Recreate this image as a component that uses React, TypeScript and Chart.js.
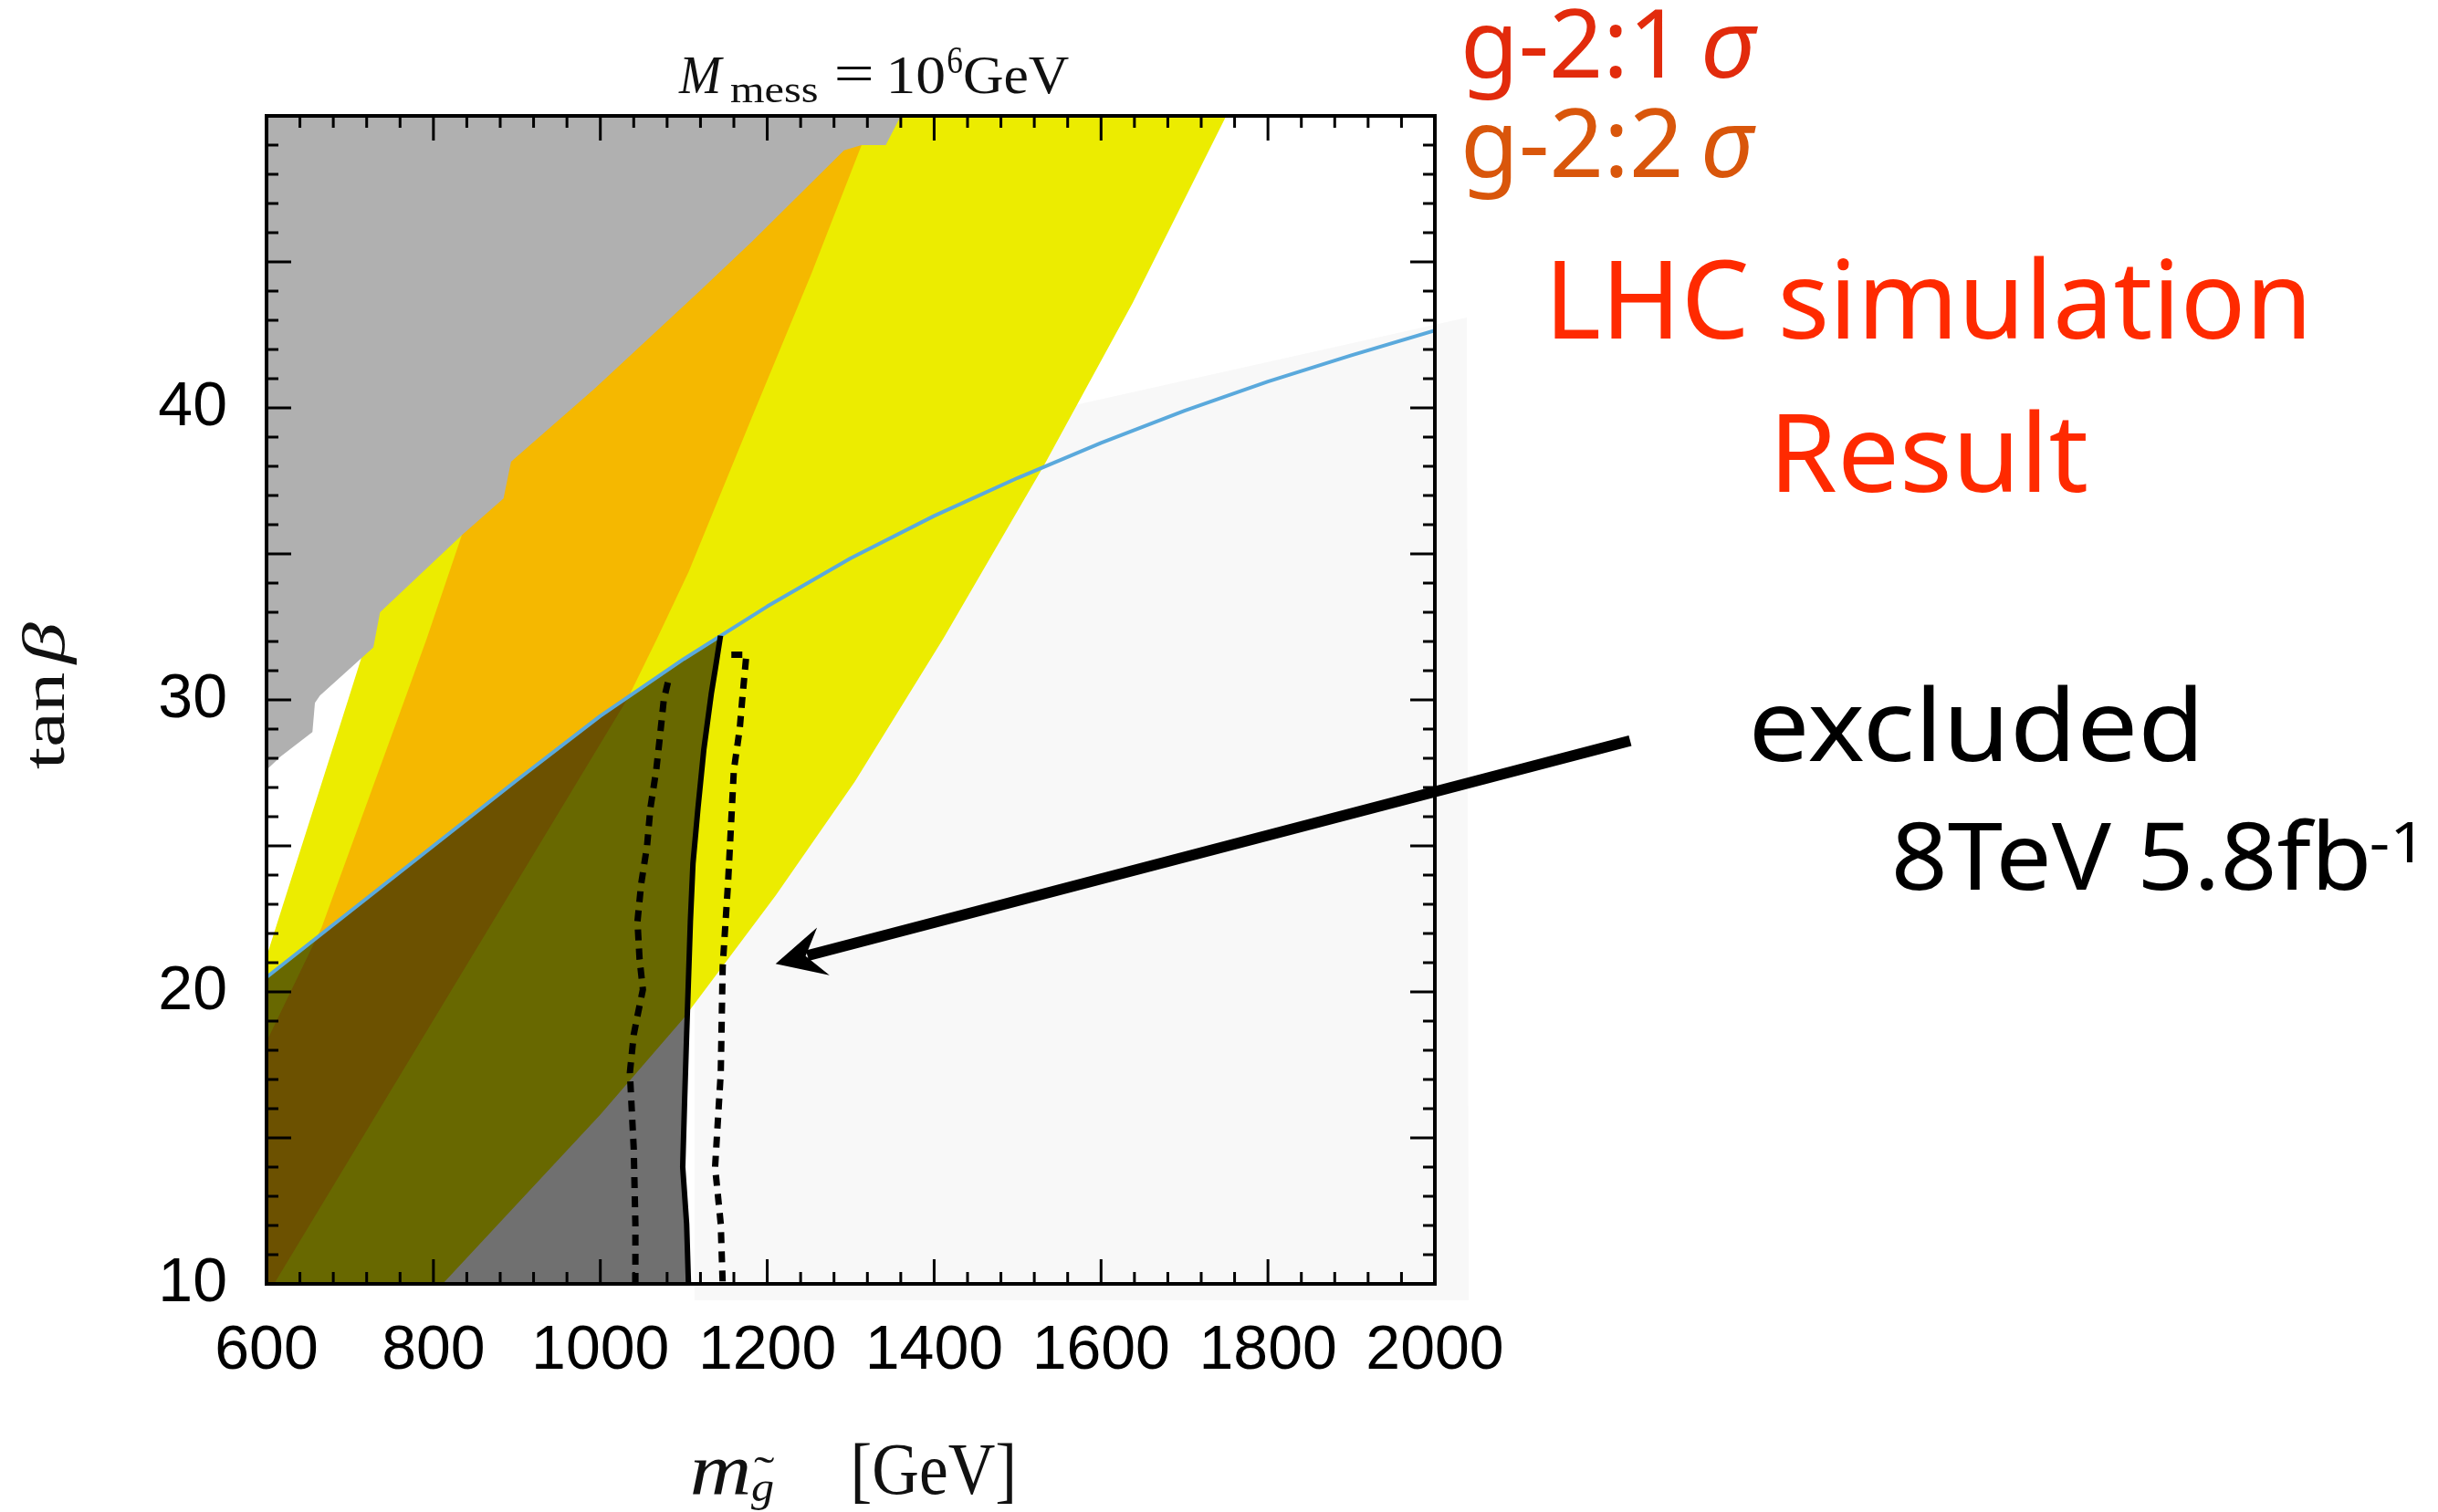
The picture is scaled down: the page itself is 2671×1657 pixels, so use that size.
import React, { useEffect, useRef } from 'react';
import { Chart, registerables } from 'chart.js';

Chart.register(...registerables);

type P = [number, number];

// ---- axes ----
const X_MIN = 600;
const X_MAX = 2000;
const Y_MIN = 10;
const Y_MAX = 50;
const X_LABEL_STEP = 200;
const Y_LABEL_STEP = 10;
const X_MINOR_STEP = 40;
const X_MAJOR_STEP = 200;
const Y_MINOR_STEP = 1;
const Y_MAJOR_STEP = 5;
const Y_HIDDEN_LABELS = [50];

// ---- regions (gluino mass [GeV], tan beta) ----
const g2TwoSigmaBand: P[] = [
  [600, 10], [811, 10], [1000, 15.8], [1100, 19.1], [1210, 23.3], [1305, 27.2],
  [1411, 32.1], [1531, 38.0], [1638, 43.6], [1750, 50], [1760, 50.6],
  [925, 50.6], [700, 30.2], [600, 21.2],
];

const g2OneSigmaBand: P[] = [
  [600, 10], [609, 10], [1033, 30.06], [1068, 32.1], [1106, 34.4], [1182, 39.7],
  [1253, 44.6], [1313, 49.0], [1335, 50.6], [1030, 50.6], [960, 45], [900, 40.5],
  [834, 35.64], [792, 32.1], [768, 30.2], [666, 22.2], [600, 18.3],
];

const excludedGrayRegion: P[] = [
  [600, 27.6], [617, 28.06], [655, 28.9], [658, 29.9], [664, 30.15], [728, 31.8],
  [736, 33.0], [834, 35.64], [884, 36.9], [893, 38.16], [993, 40.66], [1119, 44.0],
  [1182, 45.7], [1292, 48.82], [1313, 49.0], [1342, 49.0], [1360, 50], [1362, 50.6],
  [600, 50.6],
];

const blueCurve: P[] = [
  [600, 20.5], [700, 22.75], [800, 25.0], [900, 27.25], [1000, 29.45], [1100, 31.4],
  [1200, 33.2], [1300, 34.85], [1400, 36.3], [1500, 37.6], [1600, 38.8], [1700, 39.9],
  [1800, 40.9], [1900, 41.8], [2000, 42.65],
];

const lhcObserved: P[] = [
  [1105.6, 10], [1103.4, 12.05], [1098.7, 14.0], [1101, 16.3], [1103.4, 18.53],
  [1107.9, 22.41], [1111, 24.4], [1117, 26.3], [1124, 28.3], [1132.9, 30.2],
  [1138, 31.1], [1144, 32.2],
];

const lhcExpectedLow: P[] = [
  [1042, 10], [1042, 12.05], [1040, 14.64], [1037.7, 15.94], [1035.4, 17.23],
  [1040, 18.53], [1044.5, 19.18], [1051, 20.08], [1047, 21.12], [1044.5, 22.41],
  [1049, 23.71], [1056, 25.0], [1060, 26.3], [1067, 27.6], [1072, 28.9],
  [1076, 30.0], [1081, 30.6],
];

const lhcExpectedHigh: P[] = [
  [1157, 31.55], [1175, 31.55], [1170, 30.0], [1167, 29.0], [1160, 27.6],
  [1153, 23.71], [1146.6, 20.87], [1144.3, 17.23], [1137.5, 14.0], [1144.3, 12.05],
  [1146.6, 10],
];

// arrow (tail -> tip) in data units
const arrowTail: P = [2234, 28.6];
const arrowTip: P = [1210, 20.96];

// texts
const titleParts = ['M', 'mess', '=', '10', '6', 'GeV'];
const xTitleParts = ['m', 'g', '˜', '[GeV]'];
const yTitleParts = ['tan', 'β'];
const noteG2One = ['g-2:1', 'σ'];
const noteG2Two = ['g-2:2', 'σ'];
const noteLHC = ['LHC simulation', 'Result'];
const noteExcluded = ['excluded', '8TeV 5.8fb', '-1'];

const toXY = (pts: P[]) => pts.map(([x, y]) => ({ x, y }));

// dark overlay: below blue curve, left of observed limit
const darkOverlay: P[] = [
  [600, 10],
  ...lhcObserved,
  ...blueCurve.filter(([x]) => x < lhcObserved[lhcObserved.length - 1][0]).reverse(),
];

const SERIF = "'Liberation Serif', 'Times New Roman', serif";
const SANS = "'Noto Sans', 'Liberation Sans', sans-serif";

function fitText(
  ctx: CanvasRenderingContext2D,
  text: string,
  left: number,
  baseline: number,
  width: number,
  font: string,
  color: string
) {
  ctx.save();
  ctx.font = font;
  ctx.fillStyle = color;
  ctx.textAlign = 'left';
  ctx.textBaseline = 'alphabetic';
  const m = ctx.measureText(text);
  const vis = m.actualBoundingBoxLeft + m.actualBoundingBoxRight;
  const s = width > 0 && vis > 0 ? width / vis : 1;
  ctx.translate(left, baseline);
  ctx.scale(s, 1);
  ctx.fillText(text, m.actualBoundingBoxLeft, 0);
  ctx.restore();
}

const bgPlugin = {
  id: 'bgPatch',
  beforeDraw(chart: any) {
    const { ctx } = chart;
    ctx.save();
    ctx.fillStyle = '#ffffff';
    ctx.fillRect(0, 0, chart.width, chart.height);
    ctx.fillStyle = '#f8f8f8';
    ctx.beginPath();
    ctx.moveTo(761, 537);
    ctx.lineTo(1607, 348);
    ctx.lineTo(1609, 1425);
    ctx.lineTo(761, 1425);
    ctx.closePath();
    ctx.fill();
    ctx.restore();
  },
};

const framePlugin = {
  id: 'frameTicks',
  afterDatasetsDraw(chart: any) {
    const { ctx, chartArea } = chart;
    const { left, right, top, bottom } = chartArea;
    const xs = chart.scales.x;
    const ys = chart.scales.y;
    ctx.save();
    ctx.strokeStyle = '#000';
    ctx.lineWidth = 3;
    ctx.beginPath();
    for (let v = X_MIN + X_MINOR_STEP; v < X_MAX; v += X_MINOR_STEP) {
      const px = xs.getPixelForValue(v);
      const len = (v - X_MIN) % X_MAJOR_STEP === 0 ? 27 : 13;
      ctx.moveTo(px, bottom);
      ctx.lineTo(px, bottom - len);
      ctx.moveTo(px, top);
      ctx.lineTo(px, top + len);
    }
    for (let v = Y_MIN + Y_MINOR_STEP; v < Y_MAX; v += Y_MINOR_STEP) {
      const py = ys.getPixelForValue(v);
      const len = v % Y_MAJOR_STEP === 0 ? 27 : 13;
      ctx.moveTo(left, py);
      ctx.lineTo(left + len, py);
      ctx.moveTo(right, py);
      ctx.lineTo(right - len, py);
    }
    ctx.stroke();
    ctx.lineWidth = 4;
    ctx.strokeRect(left, top, right - left, bottom - top);
    ctx.restore();
  },
};

const annotPlugin = {
  id: 'annotations',
  afterDraw(chart: any) {
    const { ctx } = chart;
    const xs = chart.scales.x;
    const ys = chart.scales.y;

    // title
    fitText(ctx, titleParts[0], 743, 102, 50, `italic 60px ${SERIF}`, '#111');
    fitText(ctx, titleParts[1], 800, 112, 95, `42px ${SERIF}`, '#111');
    fitText(ctx, titleParts[2], 916, 100, 38, `60px ${SERIF}`, '#111');
    fitText(ctx, titleParts[3], 976, 102, 58, `60px ${SERIF}`, '#111');
    fitText(ctx, titleParts[4], 1038, 80, 16, `42px ${SERIF}`, '#111');
    fitText(ctx, titleParts[5], 1057, 102, 114, `60px ${SERIF}`, '#111');

    // x title
    fitText(ctx, xTitleParts[0], 758, 1637, 62, `italic 80px ${SERIF}`, '#111');
    fitText(ctx, xTitleParts[1], 823, 1645, 24, `italic 46px ${SERIF}`, '#111');
    fitText(ctx, xTitleParts[2], 826, 1628, 22, `46px ${SERIF}`, '#111');
    fitText(ctx, xTitleParts[3], 936, 1637, 173, `80px ${SERIF}`, '#111');

    // y title (rotated)
    ctx.save();
    ctx.translate(70, 843);
    ctx.rotate(-Math.PI / 2);
    fitText(ctx, yTitleParts[0], 0, 0, 105, `66px ${SERIF}`, '#111');
    fitText(ctx, yTitleParts[1], 113, 0, 48, `italic 66px ${SERIF}`, '#111');
    ctx.restore();

    // right-side notes
    fitText(ctx, noteG2One[0], 1605, 85, 216, `104px ${SANS}`, '#e22b0c');
    fitText(ctx, noteG2One[1], 1867, 85, 59, `italic 104px ${SANS}`, '#e22b0c');
    fitText(ctx, noteG2Two[0], 1605, 194, 235, `104px ${SANS}`, '#d9560b');
    fitText(ctx, noteG2Two[1], 1867, 194, 57, `italic 104px ${SANS}`, '#d9560b');
    fitText(ctx, noteLHC[0], 1703, 371, 821, `119px ${SANS}`, '#ff2a00');
    fitText(ctx, noteLHC[1], 1949, 539, 337, `119px ${SANS}`, '#ff2a00');
    fitText(ctx, noteExcluded[0], 1922, 834, 484, `110px ${SANS}`, '#000');
    fitText(ctx, noteExcluded[1], 2077, 975, 516, `103px ${SANS}`, '#000');
    fitText(ctx, noteExcluded[2], 2598, 945, 46, `62px ${SANS}`, '#000');

    // arrow
    const sx = xs.getPixelForValue(arrowTail[0]);
    const sy = ys.getPixelForValue(arrowTail[1]);
    const tx = xs.getPixelForValue(arrowTip[0]);
    const ty = ys.getPixelForValue(arrowTip[1]);
    const dx = tx - sx;
    const dy = ty - sy;
    const L = Math.hypot(dx, dy);
    const ux = dx / L;
    const uy = dy / L;
    const nx = -uy;
    const ny = ux;
    const headLen = 54;
    const halfW = 27;
    const notch = 34;
    ctx.save();
    ctx.strokeStyle = '#000';
    ctx.fillStyle = '#000';
    ctx.lineWidth = 12;
    ctx.lineCap = 'butt';
    ctx.beginPath();
    ctx.moveTo(sx, sy);
    ctx.lineTo(tx - ux * (notch + 2), ty - uy * (notch + 2));
    ctx.stroke();
    ctx.beginPath();
    ctx.moveTo(tx, ty);
    ctx.lineTo(tx - ux * headLen + nx * halfW, ty - uy * headLen + ny * halfW);
    ctx.lineTo(tx - ux * notch, ty - uy * notch);
    ctx.lineTo(tx - ux * headLen - nx * halfW, ty - uy * headLen - ny * halfW);
    ctx.closePath();
    ctx.fill();
    ctx.restore();
  },
};

const polygon = (label: string, pts: P[], color: string, order: number) => ({
  label,
  data: toXY(pts),
  fill: 'shape',
  backgroundColor: color,
  borderColor: 'rgba(0,0,0,0)',
  borderWidth: 0,
  pointRadius: 0,
  tension: 0,
  order,
});

const line = (label: string, pts: P[], color: string, width: number, order: number, dash: number[] = []) => ({
  label,
  data: toXY(pts),
  fill: false,
  borderColor: color,
  borderWidth: width,
  borderDash: dash,
  borderCapStyle: 'butt',
  borderJoinStyle: 'round',
  pointRadius: 0,
  tension: 0,
  order,
});

export default function App() {
  const ref = useRef<HTMLCanvasElement | null>(null);

  useEffect(() => {
    if (!ref.current) return;
    const chart = new Chart(ref.current, {
      type: 'line',
      data: {
        datasets: [
          polygon('g-2 2σ', g2TwoSigmaBand, '#ecec00', 10),
          polygon('g-2 1σ', g2OneSigmaBand, '#f5b800', 9),
          polygon('excluded (theory)', excludedGrayRegion, '#b0b0b0', 8),
          polygon('LHC excluded', darkOverlay, 'rgba(0,0,0,0.56)', 7),
          line('Higgs / boundary', blueCurve, '#5aa9dc', 4, 6),
          line('LHC observed', lhcObserved, '#000', 6, 5),
          line('LHC expected -', lhcExpectedLow, '#000', 7, 4, [12, 9]),
          line('LHC expected +', lhcExpectedHigh, '#000', 7, 4, [12, 9]),
        ] as any,
      },
      options: {
        responsive: false,
        animation: false,
        devicePixelRatio: 1,
        events: [],
        layout: { padding: { left: 0, top: 127, right: 2671 - 1572, bottom: 1657 - 1407 - 160 } },
        plugins: {
          legend: { display: false },
          tooltip: { enabled: false },
          title: { display: false },
        },
        scales: {
          x: {
            type: 'linear',
            position: 'bottom',
            min: X_MIN,
            max: X_MAX,
            afterFit: (s: any) => { s.height = 160; },
            grid: { display: false, drawTicks: false },
            border: { display: false },
            ticks: {
              stepSize: X_LABEL_STEP,
              padding: 40,
              color: '#000',
              maxRotation: 0,
              autoSkip: false,
              font: { family: "'Liberation Sans', Arial, sans-serif", size: 68, lineHeight: 1 },
              callback: (v: any) => String(v),
            },
          },
          y: {
            type: 'linear',
            position: 'left',
            min: Y_MIN,
            max: Y_MAX,
            afterFit: (s: any) => { s.width = 292; },
            grid: { display: false, drawTicks: false },
            border: { display: false },
            ticks: {
              stepSize: Y_LABEL_STEP,
              padding: 43,
              color: '#000',
              autoSkip: false,
              font: { family: "'Liberation Sans', Arial, sans-serif", size: 68, lineHeight: 1 },
              callback: (v: any) => (Y_HIDDEN_LABELS.includes(Number(v)) ? '' : String(v)),
            },
          },
        },
      } as any,
      plugins: [bgPlugin, framePlugin, annotPlugin],
    });
    return () => chart.destroy();
  }, []);

  return (
    <div style={{ position: 'fixed', left: 0, top: 0, width: 2671, height: 1657, background: '#fff' }}>
      <canvas ref={ref} width={2671} height={1657} style={{ display: 'block', width: 2671, height: 1657 }} />
    </div>
  );
}
